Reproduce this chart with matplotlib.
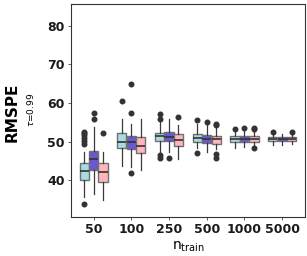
import numpy as np
import matplotlib
matplotlib.use('Agg')
import matplotlib.pyplot as plt

# categories and box statistics
n_train = ['50', '100', '250', '500', '1000', '5000']
colors = ['#a8dbe3', '#6a57d4', '#ffb6bb']

# per method: lists over n_train
q1 = [
    [40.1, 48.3, 50.2, 49.8, 50.0, 50.1],
    [42.7, 48.1, 50.2, 49.6, 50.0, 50.1],
    [39.5, 47.2, 49.0, 49.5, 50.0, 50.1],
]
med = [
    [42.5, 50.0, 51.4, 50.9, 50.6, 50.6],
    [45.6, 50.0, 51.3, 50.7, 50.6, 50.6],
    [42.1, 49.0, 50.4, 50.6, 50.6, 50.6],
]
q3 = [
    [44.4, 52.2, 52.3, 51.9, 51.4, 51.1],
    [47.7, 51.5, 52.6, 51.7, 51.4, 51.1],
    [44.6, 51.3, 52.0, 51.5, 51.4, 51.1],
]
whis_lo = [
    [35.8, 43.8, 47.3, 48.3, 48.3, 49.2],
    [36.6, 43.5, 47.4, 47.4, 48.7, 49.2],
    [34.9, 42.7, 45.4, 48.2, 49.0, 49.3],
]
whis_hi = [
    [47.4, 55.9, 55.0, 54.7, 53.1, 51.9],
    [53.9, 54.7, 56.0, 54.3, 53.1, 52.1],
    [47.3, 56.0, 54.3, 54.0, 53.1, 51.9],
]
fliers = [
    [[33.8, 49.5, 50.3, 51.0, 51.7, 52.2, 52.6], [60.5], [57.1, 55.9, 46.5, 45.8], [55.6, 47.0], [53.4], [52.4]],
    [[57.5, 55.9], [57.3, 64.8, 42.0], [45.9], [55.1], [53.6], []],
    [[52.3], [], [56.3], [54.5, 54.2, 46.9, 45.7], [53.6, 53.3, 48.4], [52.4]],
]

fig = plt.figure(figsize=(3.07, 2.56), dpi=100)
ax = fig.add_axes([0.231, 0.152, 0.762, 0.832])

offsets = [-0.25, 0.0, 0.25]
for m in range(3):
    stats = []
    for g in range(len(n_train)):
        stats.append(dict(q1=q1[m][g], med=med[m][g], q3=q3[m][g],
                          whislo=whis_lo[m][g], whishi=whis_hi[m][g],
                          fliers=fliers[m][g]))
    pos = np.arange(1, len(n_train) + 1) + offsets[m]
    ax.bxp(stats, positions=pos, widths=0.245, patch_artist=True, showcaps=False,
           boxprops=dict(facecolor=colors[m], edgecolor='#707070', linewidth=1.0),
           medianprops=dict(color='#333333', linewidth=1.2),
           whiskerprops=dict(color='#3a3a3a', linewidth=0.9),
           flierprops=dict(marker='o', markerfacecolor='#333333',
                           markeredgecolor='#333333', markersize=3.3))

ax.set_xlim(0.4, 6.6)
ax.set_ylim(30.5, 85.6)
ax.set_yticks([40, 50, 60, 70, 80])
ax.set_xticks(np.arange(1, 7))
ax.set_xticklabels(n_train)
for lab in ax.get_xticklabels() + ax.get_yticklabels():
    lab.set_fontweight('bold')
    lab.set_fontsize(9)
    lab.set_color('#1a1a1a')
ax.tick_params(length=2.5, width=0.6, color='#444444', pad=2)
for sp in ax.spines.values():
    sp.set_color('#333333')
    sp.set_linewidth(0.8)

ax.set_xlabel(r'n$_{\mathrm{train}}$', fontsize=10, labelpad=2)
fig.text(0.04, 0.56, 'RMSPE', rotation=90, fontsize=11, fontweight='bold',
         ha='center', va='center')
fig.text(0.098, 0.57, r'$\tau$=0.99', rotation=90, fontsize=6.5,
         ha='center', va='center')

fig.savefig('out.png', dpi=100)
